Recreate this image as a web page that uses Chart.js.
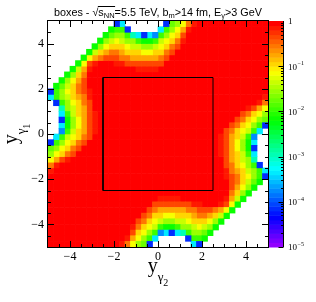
<!DOCTYPE html>
<html>
<head>
<meta charset="utf-8">
<title>boxes</title>
<script src="https://cdn.jsdelivr.net/npm/chart.js@4.4.1/dist/chart.umd.min.js"></script>
<style>
  body { margin: 0; background: #fff; }
  canvas { display: block; }
</style>
</head>
<body>
<canvas id="myChart" width="316" height="302"></canvas>
<script>
// 2D histogram, 40 x 40 bins on [-5, 5] x [-5, 5]
var binLow = -5;
var binHigh = 5;
var binWidth = 0.25;

// one string per row, top row first (y_gamma1 = 5 down to -5), left to right in y_gamma2.
// each char is -5*log10(bin content), '.' = empty bin; spaces only group the columns by 10
var levelChars = "0123456789abcdefghijkl";
var binRows = [
  ".......... ..lh...... .l98631000 0000000000",
  ".......... .baal..... ha86410000 0000000000",
  ".......... b988afhlhj a865200000 0000000000",
  ".........b 876788abba 7653100000 0000000000",
  "........b8 6555677887 6532000000 0000000000",
  ".......b75 4334555665 5320000000 0000000000",
  "......b643 2223344444 3200000000 0000000000",
  ".....b6210 0011222222 2000000000 0000000000",
  "....b74100 0000001111 0000000000 0000000000",
  "...b853000 0000000000 0000000000 0000000000",
  "..b8642000 0000000000 0000000000 0000000000",
  ".b97532000 0000000000 0000000000 0000000000",
  "la86532100 0000000000 0000000000 0000000000",
  "ha87543100 0000000000 0000000000 0000000001",
  ".la8653200 0000000000 0000000000 0000000013",
  "..f8754200 0000000000 0000000000 0000001246",
  "..ha754210 0000000000 0000000000 0000023568",
  "..lb864210 0000000000 0000000000 0000235689",
  "..hb864210 0000000000 0000000000 00023568al",
  "..ja754210 0000000000 0000000000 0023567ah.",
  ".ha7653200 0000000000 0000000000 012457aj..",
  "la86532000 0000000000 0000000000 012468bh..",
  "9865320000 0000000000 0000000000 012468bl..",
  "8653200000 0000000000 0000000000 012457ah..",
  "6421000000 0000000000 0000000000 0024578f..",
  "3100000000 0000000000 0000000000 0023568al.",
  "1000000000 0000000000 0000000000 00134578ah",
  "0000000000 0000000000 0000000000 00123568al",
  "0000000000 0000000000 0000000000 00023579b.",
  "0000000000 0000000000 0000000000 0002468b..",
  "0000000000 0000000000 0000000000 000358b...",
  "0000000000 0000000000 1111000000 00147b....",
  "0000000000 0000000002 2222221100 0126b.....",
  "0000000000 0000000023 4444433222 346b......",
  "0000000000 0000000235 5665554334 57b.......",
  "0000000000 0000002356 7887765556 8b........",
  "0000000000 0000013567 abba887678 b.........",
  "0000000000 000002568a jhlhfa889b ..........",
  "0000000000 00001468ah .....laab. ..........",
  "0000000000 00013689l. ......hl.. .........."
];

// the box drawn over the map
var boxX = [-2.5, 2.5, 2.5, -2.5, -2.5];
var boxY = [-2.5, -2.5, 2.5, 2.5, -2.5];

var xTicks = [-4, -2, 0, 2, 4];
var yTicks = [-4, -2, 0, 2, 4];
var minorStep = 0.5;

// colour axis
var zMin = 1e-5;
var zMax = 1;
var zTicks = [1, 1e-1, 1e-2, 1e-3, 1e-4, 1e-5];
var zTickLabels = ["1", "10^-1", "10^-2", "10^-3", "10^-4", "10^-5"];

var nColors = 50;
function paletteColor(i) {
  // violet -> red spectrum, last colour pure red
  if (i >= nColors - 1) return "rgb(255,0,0)";
  return "hsl(" + (280 - (i + 1) * 280 / nColors).toFixed(1) + ",100%,50%)";
}
function colorIndex(v) {
  var lmin = Math.log10(zMin), lmax = Math.log10(zMax);
  var i = Math.floor(0.01 + (Math.log10(v) - lmin) * nColors / (lmax - lmin));
  return Math.max(0, Math.min(nColors - 1, i));
}

var byColor = {};
for (var r = 0; r < binRows.length; r++) {
  var cells = binRows[r].replace(/ /g, "");
  for (var c = 0; c < cells.length; c++) {
    var k = levelChars.indexOf(cells.charAt(c));
    if (k < 0) continue;
    var content = Math.pow(10, -k / 5);
    var ci = colorIndex(content);
    if (!byColor[ci]) byColor[ci] = [];
    byColor[ci].push({ x: binLow + (c + 0.5) * binWidth, y: binHigh - (r + 0.5) * binWidth });
  }
}

function cellRadius(context) {
  var xs = context.chart.scales.x, ys = context.chart.scales.y;
  var w = Math.abs(xs.getPixelForValue(binWidth) - xs.getPixelForValue(0));
  var h = Math.abs(ys.getPixelForValue(binWidth) - ys.getPixelForValue(0));
  return (Math.max(w, h) + 0.6) / Math.SQRT2;
}

var datasets = [{
  label: "box",
  data: boxX.map(function (x, i) { return { x: x, y: boxY[i] }; }),
  showLine: true,
  borderColor: "#000",
  borderWidth: 1,
  pointRadius: 0,
  fill: false,
  order: 0
}];
Object.keys(byColor).forEach(function (ci) {
  var col = paletteColor(+ci);
  datasets.push({
    label: "bins " + ci,
    data: byColor[ci],
    pointStyle: "rect",
    pointRadius: cellRadius,
    pointHoverRadius: cellRadius,
    pointBorderWidth: 0,
    pointBackgroundColor: col,
    backgroundColor: col,
    borderWidth: 0,
    clip: 0,
    order: 1
  });
});

function signed(v) {
  return v < 0 ? "\u2212" + Math.abs(v) : String(v);
}

var serif = "'Liberation Serif', 'DejaVu Serif', serif";
var sans = "'Liberation Sans', Arial, sans-serif";

// text pieces: [text, subscript?, under the root sign?]
var titleParts = [
  ["boxes - ", 0, 0], ["\u221A", 0, 0], ["s", 0, 1], ["NN", 1, 1], ["=5.5 TeV, b", 0, 0],
  ["m", 1, 0], [">14 fm, E", 0, 0], ["\u03B3", 1, 0], [">3 GeV", 0, 0]
];

function drawAxisTitle(ctx, parts, rotate, cx, cy) {
  // parts: y, gamma, index ; baselines shift down for each sub level
  var sizes = [20, 13, 10], shifts = [0, 8.5, 13.5];
  var widths = [], total = 0;
  parts.forEach(function (t, i) {
    ctx.font = sizes[i] + "px " + serif;
    widths.push(ctx.measureText(t).width);
    total += widths[i];
  });
  ctx.save();
  ctx.translate(cx, cy);
  if (rotate) ctx.rotate(-Math.PI / 2);
  var x = -total / 2;
  parts.forEach(function (t, i) {
    ctx.font = sizes[i] + "px " + serif;
    ctx.fillText(t, x, shifts[i]);
    x += widths[i];
  });
  ctx.restore();
}

var decorations = {
  id: "decorations",
  afterDraw: function (chart) {
    var ctx = chart.ctx, a = chart.chartArea;
    var xs = chart.scales.x, ys = chart.scales.y, zs = chart.scales.z;
    ctx.save();
    ctx.strokeStyle = "#000";
    ctx.lineWidth = 1;

    // frame
    ctx.strokeRect(a.left - 0.5, a.top - 0.5, a.right - a.left + 1, a.bottom - a.top + 1);

    // inward ticks on all four sides
    ctx.beginPath();
    var n = Math.round((xs.max - xs.min) / minorStep);
    for (var t = 1; t < n; t++) {
      var v = xs.min + t * minorStep;
      var len = xTicks.indexOf(v) >= 0 ? 6 : 3;
      var px = Math.round(xs.getPixelForValue(v)) + 0.5;
      ctx.moveTo(px, a.bottom); ctx.lineTo(px, a.bottom - len);
      ctx.moveTo(px, a.top); ctx.lineTo(px, a.top + len);
    }
    n = Math.round((ys.max - ys.min) / minorStep);
    for (t = 1; t < n; t++) {
      v = ys.min + t * minorStep;
      len = yTicks.indexOf(v) >= 0 ? 6 : 3;
      var py = Math.round(ys.getPixelForValue(v)) + 0.5;
      ctx.moveTo(a.left, py); ctx.lineTo(a.left + len, py);
      ctx.moveTo(a.right, py); ctx.lineTo(a.right - len, py);
    }
    ctx.stroke();

    // colour bar
    var barL = a.right + 1, barR = a.right + 15;
    var lmin = Math.log10(zMin), lmax = Math.log10(zMax);
    for (var i = 0; i < nColors; i++) {
      var yHi = zs.getPixelForValue(Math.pow(10, lmin + (i + 1) * (lmax - lmin) / nColors));
      var yLo = zs.getPixelForValue(Math.pow(10, lmin + i * (lmax - lmin) / nColors));
      ctx.fillStyle = paletteColor(i);
      ctx.fillRect(barL, yHi, barR - barL, yLo - yHi + 0.5);
    }
    ctx.beginPath();
    ctx.moveTo(barR + 0.5, a.top); ctx.lineTo(barR + 0.5, a.bottom);
    for (var d = lmin; d < lmax; d++) {
      for (var m = 1; m < 10; m++) {
        var zy = Math.round(zs.getPixelForValue(m * Math.pow(10, d))) + 0.5;
        ctx.moveTo(barR + 0.5, zy); ctx.lineTo(barR + 0.5 - (m === 1 ? 5 : 2.5), zy);
      }
    }
    ctx.stroke();

    ctx.fillStyle = "#000";
    ctx.textAlign = "left";
    ctx.textBaseline = "middle";
    zTicks.forEach(function (zv, i) {
      var y = zs.getPixelForValue(zv);
      var parts = zTickLabels[i].split("^");
      ctx.font = "9px " + serif;
      ctx.fillText(parts[0], barR + 5, y + 1);
      if (parts[1]) {
        var w = ctx.measureText(parts[0]).width;
        ctx.font = "6px " + serif;
        ctx.fillText(parts[1].replace("-", "\u2212"), barR + 5.5 + w, y - 2.5);
      }
    });

    // title
    ctx.textBaseline = "alphabetic";
    var big = 10.8, small = 7.5;
    var total = 0;
    titleParts.forEach(function (p) {
      ctx.font = (p[1] ? small : big) + "px " + sans;
      p.w = ctx.measureText(p[0]).width;
      total += p.w;
    });
    var x = chart.width / 2 - total / 2, yb = 15.5;
    var rootStart = null, rootEnd = null;
    titleParts.forEach(function (p) {
      ctx.font = (p[1] ? small : big) + "px " + sans;
      ctx.fillText(p[0], x, yb + (p[1] ? 2.5 : 0));
      if (p[2]) {
        if (rootStart === null) rootStart = x;
        rootEnd = x + p.w;
      }
      x += p.w;
    });
    ctx.beginPath();
    ctx.moveTo(rootStart - 0.5, yb - 9); ctx.lineTo(rootEnd + 0.5, yb - 9);
    ctx.stroke();

    // axis titles
    drawAxisTitle(ctx, ["y", "\u03B3", "2"], false, (a.left + a.right) / 2, a.bottom + 25);
    drawAxisTitle(ctx, ["y", "\u03B3", "1"], true, 16.5, (a.top + a.bottom) / 2);

    ctx.restore();
  }
};

var ctx = document.getElementById("myChart").getContext("2d");
var myChart = new Chart(ctx, {
  type: "scatter",
  data: { datasets: datasets },
  options: {
    responsive: false,
    animation: false,
    events: [],
    devicePixelRatio: 1,
    layout: { padding: { top: 21, left: 0, right: 0, bottom: 0 } },
    plugins: {
      legend: { display: false },
      tooltip: { enabled: false },
      title: { display: false }
    },
    scales: {
      x: {
        type: "linear", position: "bottom", min: binLow, max: binHigh,
        afterFit: function (s) { s.height = 55; },
        afterBuildTicks: function (s) { s.ticks = xTicks.map(function (v) { return { value: v }; }); },
        grid: { display: false, drawTicks: false },
        border: { display: false },
        ticks: { color: "#000", font: { family: serif, size: 12 }, padding: 3, maxRotation: 0, autoSkip: false, callback: signed }
      },
      y: {
        type: "linear", position: "left", min: binLow, max: binHigh,
        afterFit: function (s) { s.width = 48; },
        afterBuildTicks: function (s) { s.ticks = yTicks.map(function (v) { return { value: v }; }); },
        grid: { display: false, drawTicks: false },
        border: { display: false },
        ticks: { color: "#000", font: { family: serif, size: 12 }, padding: 4, autoSkip: false, callback: signed }
      },
      z: {
        type: "logarithmic", axis: "y", position: "right", min: zMin, max: zMax,
        afterFit: function (s) { s.width = 48; },
        grid: { display: false, drawTicks: false },
        border: { display: false },
        ticks: { display: false }
      }
    }
  },
  plugins: [decorations]
});
</script>
</body>
</html>
